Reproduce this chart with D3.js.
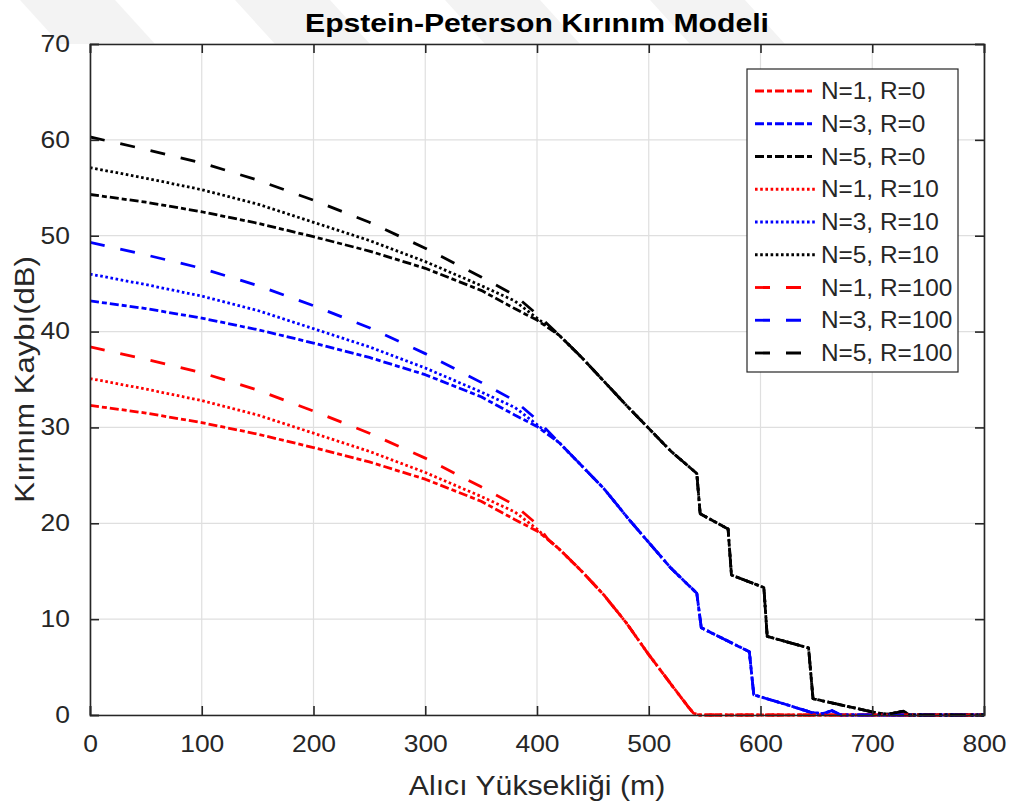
<!DOCTYPE html>
<html>
<head>
<meta charset="utf-8">
<script src="https://cdn.jsdelivr.net/npm/d3@7"></script>
<style>
  html, body { margin: 0; padding: 0; background: #fff; }
  svg { display: block; font-family: "Liberation Sans", Arial, sans-serif; }
</style>
</head>
<body>
<div id="chart"></div>
<script>
// ---------- data ----------
const xTicks = [0, 100, 200, 300, 400, 500, 600, 700, 800];
const yTicks = [0, 10, 20, 30, 40, 50, 60, 70];

// receiver heights (m) of the part where the R curves are distinct
const heights = [0, 50, 100, 150, 200, 250, 300, 350, 380, 400];

const lossN1R0   = [32.3, 31.5, 30.5, 29.3, 27.9, 26.4, 24.6, 22.3, 20.4, 19.2];
const lossN3R0   = [43.2, 42.4, 41.4, 40.2, 38.8, 37.3, 35.5, 33.2, 31.3, 30.1];
const lossN5R0   = [54.3, 53.5, 52.5, 51.3, 49.9, 48.4, 46.6, 44.3, 42.4, 41.2];
const lossN1R10  = [35.1, 34.0, 32.8, 31.3, 29.4, 27.5, 25.3, 22.8, 21.2, 19.4];
const lossN3R10  = [46.0, 44.9, 43.7, 42.2, 40.3, 38.4, 36.2, 33.7, 32.1, 30.3];
const lossN5R10  = [57.1, 56.0, 54.8, 53.3, 51.4, 49.5, 47.3, 44.8, 43.2, 41.4];
const lossN1R100 = [38.4, 37.1, 35.7, 33.9, 31.7, 29.4, 26.8, 23.8, 21.9, 19.9];
const lossN3R100 = [49.3, 48.0, 46.6, 44.8, 42.7, 40.4, 37.7, 34.7, 32.8, 30.8];
const lossN5R100 = [60.3, 59.0, 57.6, 55.8, 53.7, 51.4, 48.7, 45.7, 43.8, 41.8];

// shared tails (all R values coincide beyond ~400 m)
const tailHeightsN1 = [410, 420, 440, 460, 480, 500, 520, 535, 540, 545, 800];
const tailLossN1    = [18.3, 17.3, 15.0, 12.5, 9.6, 6.3, 3.2, 0.9, 0.2, 0, 0];
const tailHeightsN3 = [420, 440, 460, 483, 500, 520, 543, 547, 590, 594, 620, 646, 656, 664, 672, 800];
const tailLossN3    = [28.4, 26.0, 23.6, 20.3, 18.0, 15.3, 12.7, 9.1, 6.6, 2.1, 1.2, 0.25, 0.15, 0.45, 0, 0];
const tailHeightsN5 = [420, 440, 460, 480, 500, 520, 543, 546, 571, 574, 603, 606, 643, 647, 670, 705, 715, 728, 733, 800];
const tailLossN5    = [39.6, 37.3, 34.8, 32.3, 29.9, 27.5, 25.2, 21.0, 19.4, 14.6, 13.3, 8.2, 7.0, 1.7, 1.1, 0.2, 0.1, 0.4, 0, 0];

const seriesNames = ["N=1, R=0", "N=3, R=0", "N=5, R=0",
                     "N=1, R=10", "N=3, R=10", "N=5, R=10",
                     "N=1, R=100", "N=3, R=100", "N=5, R=100"];

// ---------- styling ----------
const colorOf = { 1: "#ff0000", 3: "#0000ff", 5: "#000000" };
const dashOf  = { 0: "9,3,5,3", 10: "2.6,2.6", 100: "15,16" };

function build(name, heads, tailX, tailY, N, R) {
  const pts = heights.map((h, i) => [h, heads[i]])
    .concat(tailX.map((h, i) => [h, tailY[i]]));
  return { name, N, R, pts };
}

const series = [
  build(seriesNames[0], lossN1R0,   tailHeightsN1, tailLossN1, 1, 0),
  build(seriesNames[1], lossN3R0,   tailHeightsN3, tailLossN3, 3, 0),
  build(seriesNames[2], lossN5R0,   tailHeightsN5, tailLossN5, 5, 0),
  build(seriesNames[3], lossN1R10,  tailHeightsN1, tailLossN1, 1, 10),
  build(seriesNames[4], lossN3R10,  tailHeightsN3, tailLossN3, 3, 10),
  build(seriesNames[5], lossN5R10,  tailHeightsN5, tailLossN5, 5, 10),
  build(seriesNames[6], lossN1R100, tailHeightsN1, tailLossN1, 1, 100),
  build(seriesNames[7], lossN3R100, tailHeightsN3, tailLossN3, 3, 100),
  build(seriesNames[8], lossN5R100, tailHeightsN5, tailLossN5, 5, 100)
];

// ---------- layout ----------
const W = 1011, H = 805;
const pL = 90, pR = 984, pT = 44, pB = 715;
const axisColor = "#262626";

const svg = d3.select("#chart").append("svg").attr("width", W).attr("height", H);

// horizontal stretch of text around its anchor point
function stretch(sel, sx) {
  sel.each(function () {
    const t = d3.select(this);
    const ax = +t.attr("x") || 0, ay = +t.attr("y") || 0;
    t.attr("transform", `translate(${ax},${ay}) scale(${sx},1) translate(${-ax},${-ay})`);
  });
}

// faint watermark stripes at top
const wm = svg.append("g").attr("fill", "#f3f3f3");
[[20, 95], [235, 95], [445, 95], [650, 95]].forEach(([x0, w]) => {
  wm.append("polygon").attr("points",
    `${x0},0 ${x0 + w},0 ${x0 + w + 40},44 ${x0 + 40},44`);
});

const x = d3.scaleLinear().domain([0, 800]).range([pL, pR]);
const y = d3.scaleLinear().domain([0, 70]).range([pB, pT]);

svg.append("rect").attr("x", pL).attr("y", pT)
  .attr("width", pR - pL).attr("height", pB - pT).attr("fill", "#fff");

// grid
const grid = svg.append("g").attr("stroke", "#dfdfdf").attr("stroke-width", 1.2);
grid.selectAll("line.gx").data(xTicks).join("line")
  .attr("x1", d => x(d)).attr("x2", d => x(d)).attr("y1", pT).attr("y2", pB);
grid.selectAll("line.gy").data(yTicks).join("line")
  .attr("y1", d => y(d)).attr("y2", d => y(d)).attr("x1", pL).attr("x2", pR);

// clip
svg.append("clipPath").attr("id", "clip").append("rect")
  .attr("x", pL).attr("y", pT - 3).attr("width", pR - pL).attr("height", pB - pT + 6);

const line = d3.line().x(d => x(d[0])).y(d => y(d[1]));
svg.append("g").attr("clip-path", "url(#clip)")
  .selectAll("path").data(series).join("path")
  .attr("d", d => line(d.pts))
  .attr("fill", "none")
  .attr("stroke", d => colorOf[d.N])
  .attr("stroke-width", 2.8)
  .attr("stroke-dasharray", d => dashOf[d.R])
  .attr("stroke-linejoin", "round");

// axes (ticks inward, box on)
const tickLen = 9;
const fontTick = 23;
const axB = svg.append("g").attr("transform", `translate(0,${pB})`)
  .call(d3.axisBottom(x).tickValues(xTicks).tickSize(-tickLen).tickPadding(tickLen + 12));
const axT = svg.append("g").attr("transform", `translate(0,${pT})`)
  .call(d3.axisTop(x).tickValues(xTicks).tickSize(-tickLen).tickFormat(""));
const axL = svg.append("g").attr("transform", `translate(${pL},0)`)
  .call(d3.axisLeft(y).tickValues(yTicks).tickSize(-tickLen).tickPadding(tickLen + 11));
const axR = svg.append("g").attr("transform", `translate(${pR},0)`)
  .call(d3.axisRight(y).tickValues(yTicks).tickSize(-tickLen).tickFormat(""));
[axB, axT, axL, axR].forEach(a => {
  a.selectAll(".domain").attr("stroke", axisColor).attr("stroke-width", 1.6);
  a.selectAll(".tick line").attr("stroke", axisColor).attr("stroke-width", 1.6);
  a.selectAll(".tick text").attr("fill", axisColor)
    .style("font-size", fontTick + "px").style("font-family", "Liberation Sans, Arial, sans-serif");
});
stretch(axB.selectAll(".tick text"), 1.15);
stretch(axL.selectAll(".tick text"), 1.15);

// titles
svg.append("text").attr("x", (pL + pR) / 2).attr("y", 32)
  .attr("text-anchor", "middle").attr("font-weight", "bold")
  .attr("font-size", 26).attr("fill", "#000")
  .text("Epstein-Peterson Kırınım Modeli")
  .call(stretch, 1.16);
svg.append("text").attr("x", (pL + pR) / 2).attr("y", 795)
  .attr("text-anchor", "middle").attr("font-size", 27).attr("fill", axisColor)
  .text("Alıcı Yüksekliği (m)")
  .call(stretch, 1.12);
svg.append("text").attr("transform", `translate(34,${(pT + pB) / 2}) rotate(-90) scale(1.15,1)`)
  .attr("text-anchor", "middle").attr("font-size", 27).attr("fill", axisColor)
  .text("Kırınım Kaybı(dB)");

// legend
const lg = svg.append("g");
const lgX = 747, lgY = 69, lgW = 211, lgH = 303, rowH = 32.75;
lg.append("rect").attr("x", lgX).attr("y", lgY).attr("width", lgW).attr("height", lgH)
  .attr("fill", "#fff").attr("stroke", axisColor).attr("stroke-width", 1.2);
const rows = lg.selectAll("g.row").data(series).join("g")
  .attr("transform", (d, i) => `translate(0,${lgY + 22 + i * rowH})`);
rows.append("line").attr("x1", 755).attr("x2", 815).attr("y1", 0).attr("y2", 0)
  .attr("stroke", d => colorOf[d.N]).attr("stroke-width", 2.8)
  .attr("stroke-dasharray", d => dashOf[d.R]);
rows.append("text").attr("x", 821).attr("y", 0).attr("dy", "0.35em")
  .attr("font-size", 23).attr("fill", axisColor).text(d => d.name)
  .call(stretch, 1.06);
</script>
</body>
</html>
